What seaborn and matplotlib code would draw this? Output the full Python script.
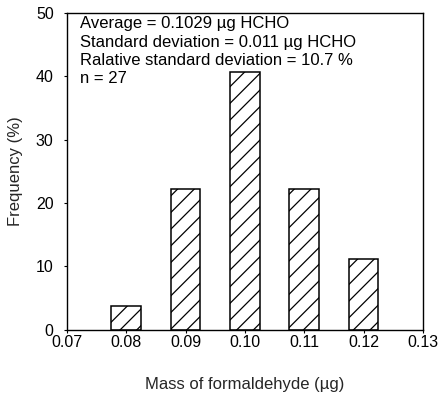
import matplotlib
matplotlib.use("Agg")
import matplotlib.pyplot as plt
import seaborn as sns
import pandas as pd

mass = [0.08, 0.09, 0.10, 0.11, 0.12]
frequency = [3.7, 22.2, 40.7, 22.2, 11.1]
x_ticks = [0.07, 0.08, 0.09, 0.10, 0.11, 0.12, 0.13]
x_tick_labels = ["0.07", "0.08", "0.09", "0.10", "0.11", "0.12", "0.13"]
y_ticks = [0, 10, 20, 30, 40, 50]
stats_lines = [
    "Average = 0.1029 \u00b5g HCHO",
    "Standard deviation = 0.011 \u00b5g HCHO",
    "Ralative standard deviation = 10.7 %",
    "n = 27",
]

sns.set_theme(style="ticks")
plt.rcParams["font.family"] = ["Liberation Sans", "DejaVu Sans"]
plt.rcParams["hatch.linewidth"] = 0.9
plt.rcParams["hatch.color"] = "black"

df = pd.DataFrame({"mass": mass, "frequency": frequency})

fig = plt.figure(figsize=(4.4, 3.95), dpi=100)
ax = fig.add_axes([0.152, 0.165, 0.809, 0.802])

sns.barplot(data=df, x="mass", y="frequency", native_scale=True, width=0.5,
            color="white", edgecolor="black", linewidth=1.1, hatch="//",
            ax=ax, errorbar=None)
for p in ax.patches:
    p.set_facecolor("white")
    p.set_hatch("//")

ax.set_xlim(0.07, 0.13)
ax.set_ylim(0, 50)
ax.set_xticks(x_ticks)
ax.set_xticklabels(x_tick_labels, fontsize=11.5)
ax.set_yticks(y_ticks)
ax.set_yticklabels([str(v) for v in y_ticks], fontsize=11.5)
ax.tick_params(axis="x", direction="out", length=2, width=0.8, colors="black", pad=2)
ax.tick_params(axis="y", direction="out", length=2.5, width=0.8, colors="black", pad=7)
for s in ax.spines.values():
    s.set_visible(True)
    s.set_color("black")
    s.set_linewidth(1.0)

ax.set_xlabel("Mass of formaldehyde (\u00b5g)", fontsize=12, labelpad=19)
ax.set_ylabel("Frequency (%)", fontsize=12, labelpad=9)

for i, line in enumerate(stats_lines):
    ax.text(0.038, 0.952 - i * 0.0577, line, transform=ax.transAxes,
            fontsize=12, va="baseline", ha="left", color="black")

fig.savefig("out.png", dpi=100)
